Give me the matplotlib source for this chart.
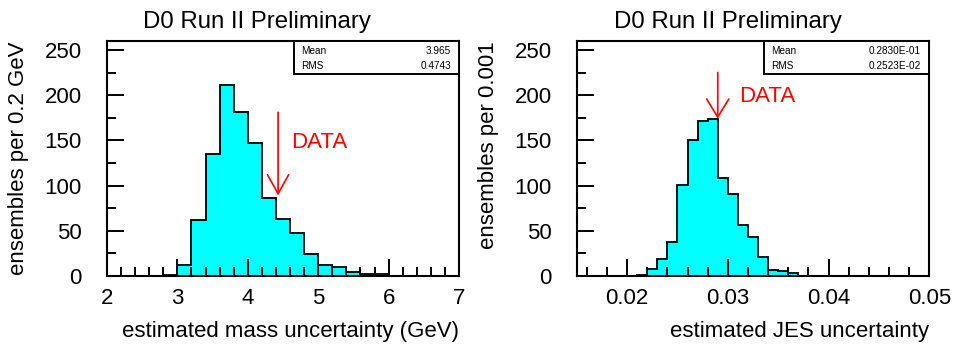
import numpy as np
import matplotlib
matplotlib.use("Agg")
import matplotlib.pyplot as plt
from matplotlib.patches import Rectangle
from matplotlib.ticker import MultipleLocator

plt.rcParams['font.family'] = ['Liberation Sans', 'DejaVu Sans']

# ---- data ----
mass_bin_lo = 2.8
mass_bin_w = 0.2
mass_counts = [1, 12, 62, 135, 211, 181, 147, 86, 63, 48, 24, 12, 10, 4, 2, 2]
mass_data = 4.43
mass_arrow_top = 181
mass_arrow_tip = 89
mass_stats = ["3.965", "0.4743"]

jes_bin_lo = 0.021
jes_bin_w = 0.001
jes_counts = [1, 8, 19, 38, 101, 150, 171, 174, 108, 91, 56, 43, 21, 7, 6, 3]
jes_data = 0.029
jes_arrow_top = 225
jes_arrow_tip = 174
jes_stats = ["0.2830E-01", "0.2523E-02"]

title = "D0 Run II Preliminary"
stat_names = ["Mean", "RMS"]

W, H = 954, 345
fig = plt.figure(figsize=(W / 100, H / 100), dpi=100)

FS = 16


def make_panel(rect, counts, lo, w, xlim, xmaj, xmin, data_x, a_top, a_tip,
               text_xy, stats, xlabel, ylabel, ylabel_x, title_x,
               head_w, head_l):
    ax = fig.add_axes(rect)
    edges = lo + w * np.arange(len(counts) + 1)
    ax.stairs(counts, edges, fill=True, facecolor='#00ffff', edgecolor='none')
    ax.stairs(counts, edges, fill=False, color='black', linewidth=1.3, baseline=0)
    ax.set_xlim(*xlim)
    ax.set_ylim(0, 259.5)
    ax.xaxis.set_major_locator(MultipleLocator(xmaj))
    ax.xaxis.set_minor_locator(MultipleLocator(xmin))
    ax.yaxis.set_major_locator(MultipleLocator(50))
    ax.yaxis.set_minor_locator(MultipleLocator(25))
    ax.tick_params(which='both', direction='in', width=1.4, top=False, right=False,
                   labelsize=FS)
    ax.tick_params(which='major', length=12.5)
    ax.tick_params(which='minor', length=6.2)
    ax.tick_params(axis='y', which='major', pad=18)
    ax.tick_params(axis='x', which='major', pad=8.5)
    for s in ax.spines.values():
        s.set_linewidth(1.5)
    # arrow
    ax.annotate('', xy=(data_x, a_tip), xytext=(data_x, a_top),
                arrowprops=dict(arrowstyle=f'->,head_length={head_l},head_width={head_w}',
                                color='red', lw=1.2, shrinkA=0, shrinkB=0))
    ax.text(text_xy[0], text_xy[1], 'DATA', color='red', fontsize=FS,
            ha='left', va='center')
    # stats box
    bx0, bw, bh = 0.53, 0.47, 0.141
    ax.add_patch(Rectangle((bx0, 1 - bh), bw, bh, transform=ax.transAxes,
                           facecolor='white', edgecolor='black', linewidth=1.4,
                           zorder=5, clip_on=False))
    for i, (n, v) in enumerate(zip(stat_names, stats)):
        yy = 1 - bh * (0.28 + 0.47 * i)
        ax.text(bx0 + 0.022, yy, n, transform=ax.transAxes, fontsize=7.2,
                ha='left', va='center', zorder=6)
        ax.text(0.977, yy, v, transform=ax.transAxes, fontsize=7.2,
                ha='right', va='center', zorder=6)
    fig.text(title_x / W, 1 - 21.7 / H, title, fontsize=17.3, ha='center', va='center')
    # axis titles right-aligned at axis end (ROOT style)
    ax.text(1.0, 1 - (331.5 - 41.3) / 234.7, xlabel, transform=ax.transAxes,
            fontsize=FS, ha='right', va='center')
    fig.text(ylabel_x / W, 1 - 41.5 / H, ylabel, fontsize=FS, rotation=90,
             ha='center', va='top')
    return ax


make_panel([107 / W, 69 / H, 352 / W, 234.7 / H], mass_counts, mass_bin_lo, mass_bin_w,
           (2, 7), 1, 0.2, mass_data, mass_arrow_top, mass_arrow_tip, (4.61, 148),
           mass_stats, "estimated mass uncertainty (GeV)", "ensembles per 0.2 GeV",
           18.5, 257, 0.76, 1.37)

make_panel([576.7 / W, 69 / H, 352.6 / W, 234.7 / H], jes_counts, jes_bin_lo, jes_bin_w,
           (0.015, 0.05), 0.01, 0.002, jes_data, jes_arrow_top, jes_arrow_tip, (0.03116, 199),
           jes_stats, "estimated JES uncertainty", "ensembles per 0.001",
           488.5, 728, 0.8, 1.3)

fig.savefig("out.png", dpi=100)
